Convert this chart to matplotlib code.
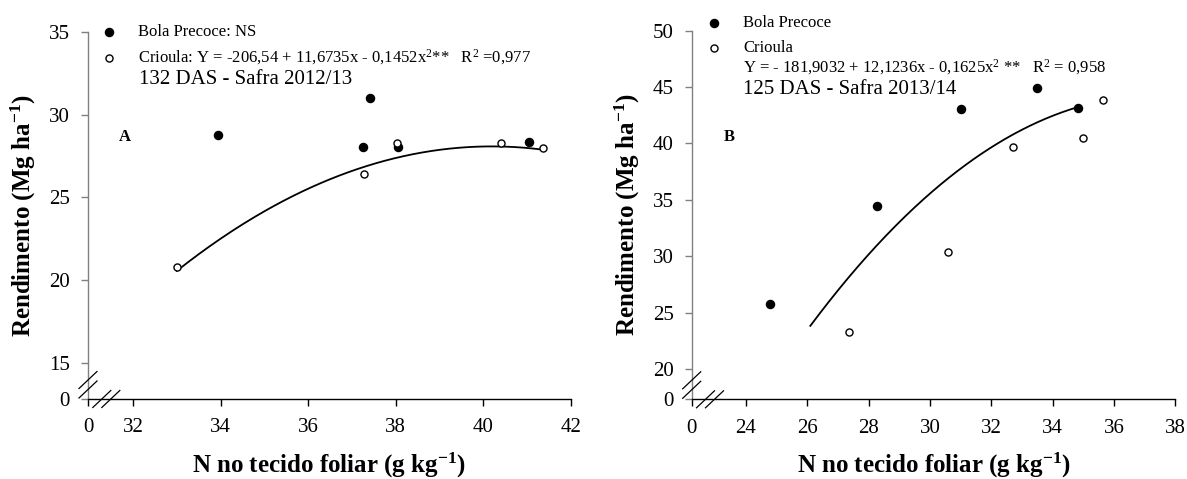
import numpy as np
import matplotlib
matplotlib.use("Agg")
import matplotlib.pyplot as plt
from matplotlib.lines import Line2D
from matplotlib.transforms import IdentityTransform

plt.rcParams['font.family'] = ['Liberation Serif', 'DejaVu Serif']
plt.rcParams['mathtext.fontset'] = 'custom'
plt.rcParams['mathtext.rm'] = 'Liberation Serif'
plt.rcParams['mathtext.it'] = 'Liberation Serif:italic'
plt.rcParams['mathtext.bf'] = 'Liberation Serif:bold'

# ---------------- data: panel A (Safra 2012/13) ----------------
a_bola_x = [33.95, 37.25, 37.42, 38.05, 41.04]
a_bola_y = [28.80, 28.05, 31.00, 28.05, 28.35]
a_crioula_x = [33.00, 37.28, 38.04, 40.41, 41.38]
a_crioula_y = [20.80, 26.40, 28.30, 28.30, 28.00]
a_coef = [-206.54, 11.6735, -0.1452]
a_curve_range = [33.00, 41.38]
a_xticks = [30.97, 32, 34, 36, 38, 40, 42]
a_xticklabels = ['0', '32', '34', '36', '38', '40', '42']
a_yticks = [12.82, 15, 20, 25, 30, 35]
a_yticklabels = ['0', '15', '20', '25', '30', '35']

# ---------------- data: panel B (Safra 2013/14) ----------------
b_bola_x = [24.80, 28.28, 31.01, 33.49, 34.84]
b_bola_y = [25.75, 34.45, 43.10, 44.95, 43.12]
b_crioula_x = [27.35, 30.58, 32.72, 34.98, 35.66]
b_crioula_y = [23.30, 30.35, 39.72, 40.50, 43.86]
b_coef = [-181.9032, 12.1236, -0.1625]
b_curve_range = [26.10, 34.84]
b_xticks = [22.23, 24, 26, 28, 30, 32, 34, 36, 38]
b_xticklabels = ['0', '24', '26', '28', '30', '32', '34', '36', '38']
b_yticks = [17.31, 20, 25, 30, 35, 40, 45, 50]
b_yticklabels = ['0', '20', '25', '30', '35', '40', '45', '50']

W, H = 1187, 479
fig = plt.figure(figsize=(W / 100, H / 100), dpi=100)

def px_box(l, r, t, b):
    return [l / W, (H - b) / H, (r - l) / W, (b - t) / H]

axA = fig.add_axes(px_box(88, 570.6, 32, 399))
axB = fig.add_axes(px_box(691.7, 1175.2, 30.7, 399.3))

GRAY = '#808080'
TICKFS = 15
LEGFS = 12
BIGFS = 15
LABFS = 18

def style(ax, xticks, xlabels, yticks, ylabels):
    ax.set_xlim(xticks[0], xticks[-1])
    ax.set_ylim(yticks[0], yticks[-1])
    ax.set_xticks(xticks)
    ax.set_xticklabels(xlabels)
    ax.set_yticks(yticks)
    ax.set_yticklabels(ylabels)
    for s in ['top', 'right']:
        ax.spines[s].set_visible(False)
    ax.spines['left'].set_color(GRAY)
    ax.spines['left'].set_linewidth(1.0)
    ax.spines['bottom'].set_color('black')
    ax.spines['bottom'].set_linewidth(1.0)
    ax.tick_params(axis='x', direction='out', length=5, width=1, color='black',
                   labelsize=TICKFS, pad=9)
    ax.tick_params(axis='y', direction='out', length=5, width=1, color=GRAY,
                   labelsize=TICKFS, pad=8, labelcolor='black')
    ax.set_xlabel(r'N no tecido foliar (g kg$^{\mathbf{-1}}$)', fontsize=LABFS,
                  fontweight='bold')
    ax.set_ylabel(r'Rendimento (Mg ha$^{\mathbf{-1}}$)', fontsize=LABFS,
                  fontweight='bold')
    ax.xaxis.label.set_va('center')
    ax.yaxis.label.set_va('center')

def plot_panel(ax, bx, by, cx, cy, coef, crange):
    hb = ax.scatter(bx, by, s=34, c='black', marker='o', zorder=3, clip_on=False)
    hc = ax.scatter(cx, cy, s=26, facecolors='white', edgecolors='black',
                    linewidths=1.0, marker='o', zorder=4, clip_on=False)
    xs = np.linspace(crange[0], crange[1], 200)
    ys = coef[0] + coef[1] * xs + coef[2] * xs ** 2
    ax.plot(xs, ys, color='black', lw=1.3, zorder=2)
    return hb, hc

style(axA, a_xticks, a_xticklabels, a_yticks, a_yticklabels)
style(axB, b_xticks, b_xticklabels, b_yticks, b_yticklabels)

hbA, hcA = plot_panel(axA, a_bola_x, a_bola_y, a_crioula_x, a_crioula_y, a_coef, a_curve_range)
hbB, hcB = plot_panel(axB, b_bola_x, b_bola_y, b_crioula_x, b_crioula_y, b_coef, b_curve_range)

# label positions
axA.xaxis.set_label_coords(0.5, (399 - 465) / 367)
axA.yaxis.set_label_coords((23 - 88) / 482.6, 0.5)
axB.xaxis.set_label_coords(0.5, (399.3 - 465) / 368.6)
axB.yaxis.set_label_coords((627 - 691.7) / 483.5, 0.5)

def fpos(x, y):
    return (x / W, 1 - y / H)

# legends
fpx = LEGFS * 100 / 72
legA = axA.legend([hbA, hcA],
                  ['Bola Precoce: NS',
                   r'Crioula: Y = -206,54 + 11,6735x - 0,1452x$^{2}$**   R$^{2}$ =0,977'],
                  loc='upper left', bbox_to_anchor=fpos(109 - fpx / 2, 24),
                  bbox_transform=fig.transFigure, frameon=False, fontsize=LEGFS,
                  borderpad=0, borderaxespad=0, handlelength=1.0,
                  handletextpad=1.24, labelspacing=0.45, scatterpoints=1)
legB = axB.legend([hbB, hcB], ['Bola Precoce', 'Crioula'],
                  loc='upper left', bbox_to_anchor=fpos(714.2 - fpx / 2, 15),
                  bbox_transform=fig.transFigure, frameon=False, fontsize=LEGFS,
                  borderpad=0, borderaxespad=0, handlelength=1.0,
                  handletextpad=1.24, labelspacing=0.56, scatterpoints=1)

fig.text(*fpos(139, 79), '132 DAS - Safra 2012/13', fontsize=BIGFS, va='center', ha='left')
fig.text(*fpos(743.4, 67),
         r'Y = - 181,9032 + 12,1236x - 0,1625x$^{2}$ **   R$^{2}$ = 0,958',
         fontsize=LEGFS, va='center', ha='left')
fig.text(*fpos(743.4, 89), '125 DAS - Safra 2013/14', fontsize=BIGFS, va='center', ha='left')
fig.text(*fpos(125, 137), 'A', fontsize=12, fontweight='bold', va='center', ha='center')
fig.text(*fpos(729, 137), 'B', fontsize=12, fontweight='bold', va='center', ha='center')

# axis break marks (decoration)
def breaks(ax):
    cx, cy = ax.transAxes.transform((0, 0))
    hx, hy = 9, 8.5
    for dy in (19, 9.5):
        fig.add_artist(Line2D([cx - hx, cx + hx], [cy + dy - hy, cy + dy + hy],
                              transform=IdentityTransform(), color='black', lw=0.9))
    for dx in (13.8, 22.8):
        fig.add_artist(Line2D([cx + dx - hx, cx + dx + hx], [cy - hy, cy + hy],
                              transform=IdentityTransform(), color='black', lw=0.9))

breaks(axA)
breaks(axB)

fig.savefig('out.png', dpi=100)
